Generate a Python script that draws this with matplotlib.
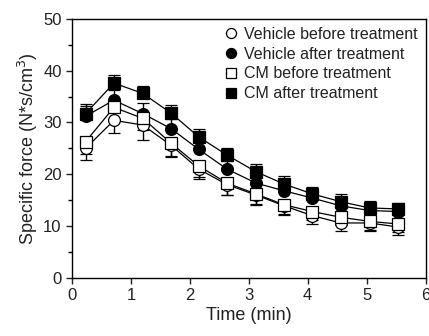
import matplotlib
matplotlib.use("Agg")
import matplotlib.pyplot as plt
from matplotlib.ticker import MultipleLocator

plt.rcParams['font.family'] = ['Liberation Sans', 'DejaVu Sans']

time_min = [0.23, 0.71, 1.2, 1.68, 2.15, 2.63, 3.12, 3.6, 4.08, 4.56, 5.05, 5.54]

veh_before = [25.0, 30.4, 29.5, 25.6, 21.0, 18.0, 16.0, 13.9, 12.0, 10.6, 10.6, 9.8]
veh_before_err = [2.3, 2.4, 2.8, 2.2, 2.0, 2.0, 2.0, 1.8, 1.6, 1.5, 1.6, 1.5]

veh_after = [31.2, 34.3, 31.7, 28.8, 24.8, 21.0, 18.3, 16.8, 15.4, 13.9, 13.0, 12.8]
veh_after_err = [2.0, 2.0, 2.0, 1.8, 1.8, 1.6, 1.6, 1.6, 1.5, 1.5, 1.4, 1.4]

cm_before = [26.3, 32.9, 30.8, 26.0, 21.6, 18.3, 16.2, 14.1, 12.8, 11.7, 10.9, 10.4]
cm_before_err = [2.3, 2.2, 2.2, 2.4, 2.2, 2.3, 2.0, 1.8, 1.6, 1.5, 1.6, 1.5]

cm_after = [31.7, 37.6, 35.6, 31.8, 27.2, 23.7, 20.5, 18.1, 16.2, 14.7, 13.5, 13.3]
cm_after_err = [1.8, 1.6, 1.4, 1.5, 1.5, 1.4, 1.4, 1.5, 1.4, 1.4, 1.3, 1.2]

labels = ['Vehicle before treatment', 'Vehicle after treatment',
          'CM before treatment', 'CM after treatment']

fig = plt.figure(figsize=(4.29, 3.36), dpi=100)
ax = fig.add_axes([0.168, 0.173, 0.824, 0.771])

series = [
    (veh_before, veh_before_err, 'o', 'white', 'lower'),
    (veh_after, veh_after_err, 'o', 'black', 'upper'),
    (cm_before, cm_before_err, 's', 'white', 'lower'),
    (cm_after, cm_after_err, 's', 'black', 'upper'),
]

for (vals, err, mk, fc, side), lab in zip(series, labels):
    if side == 'lower':
        yerr = [err, [0] * len(err)]
    else:
        yerr = [[0] * len(err), err]
    ax.errorbar(time_min, vals, yerr=yerr, fmt='-', marker=mk, color='black',
                mfc=fc, mec='black', ms=8.5, mew=0.9, lw=0.9, elinewidth=1.0,
                capsize=4, capthick=1.0, label=lab, zorder=3)

ax.set_xlim(0, 6)
ax.set_ylim(0, 50)
ax.xaxis.set_major_locator(MultipleLocator(1))
ax.yaxis.set_major_locator(MultipleLocator(10))
ax.yaxis.set_minor_locator(MultipleLocator(5))
ax.tick_params(axis='both', which='major', direction='out', length=4, width=1,
               labelsize=12, colors='#222222')
ax.tick_params(axis='y', which='minor', direction='out', length=3, width=1)
for sp in ax.spines.values():
    sp.set_linewidth(1.0)

ax.set_xlabel('Time (min)', fontsize=13, color='#222222', labelpad=3)
ax.set_ylabel('Specific force (N*s/cm$^3$)', fontsize=13, color='#222222', labelpad=2)

handles, labs = ax.get_legend_handles_labels()
leg = ax.legend([h[0] for h in handles], labs, loc='upper right',
                bbox_to_anchor=(1.0, 1.0), frameon=False, fontsize=11.5,
                markerscale=0.85, handlelength=0.6, handletextpad=0.5,
                labelspacing=0.3, borderaxespad=0.3, borderpad=0.2)
for t in leg.get_texts():
    t.set_color('#222222')

fig.savefig('out.png', dpi=100)
